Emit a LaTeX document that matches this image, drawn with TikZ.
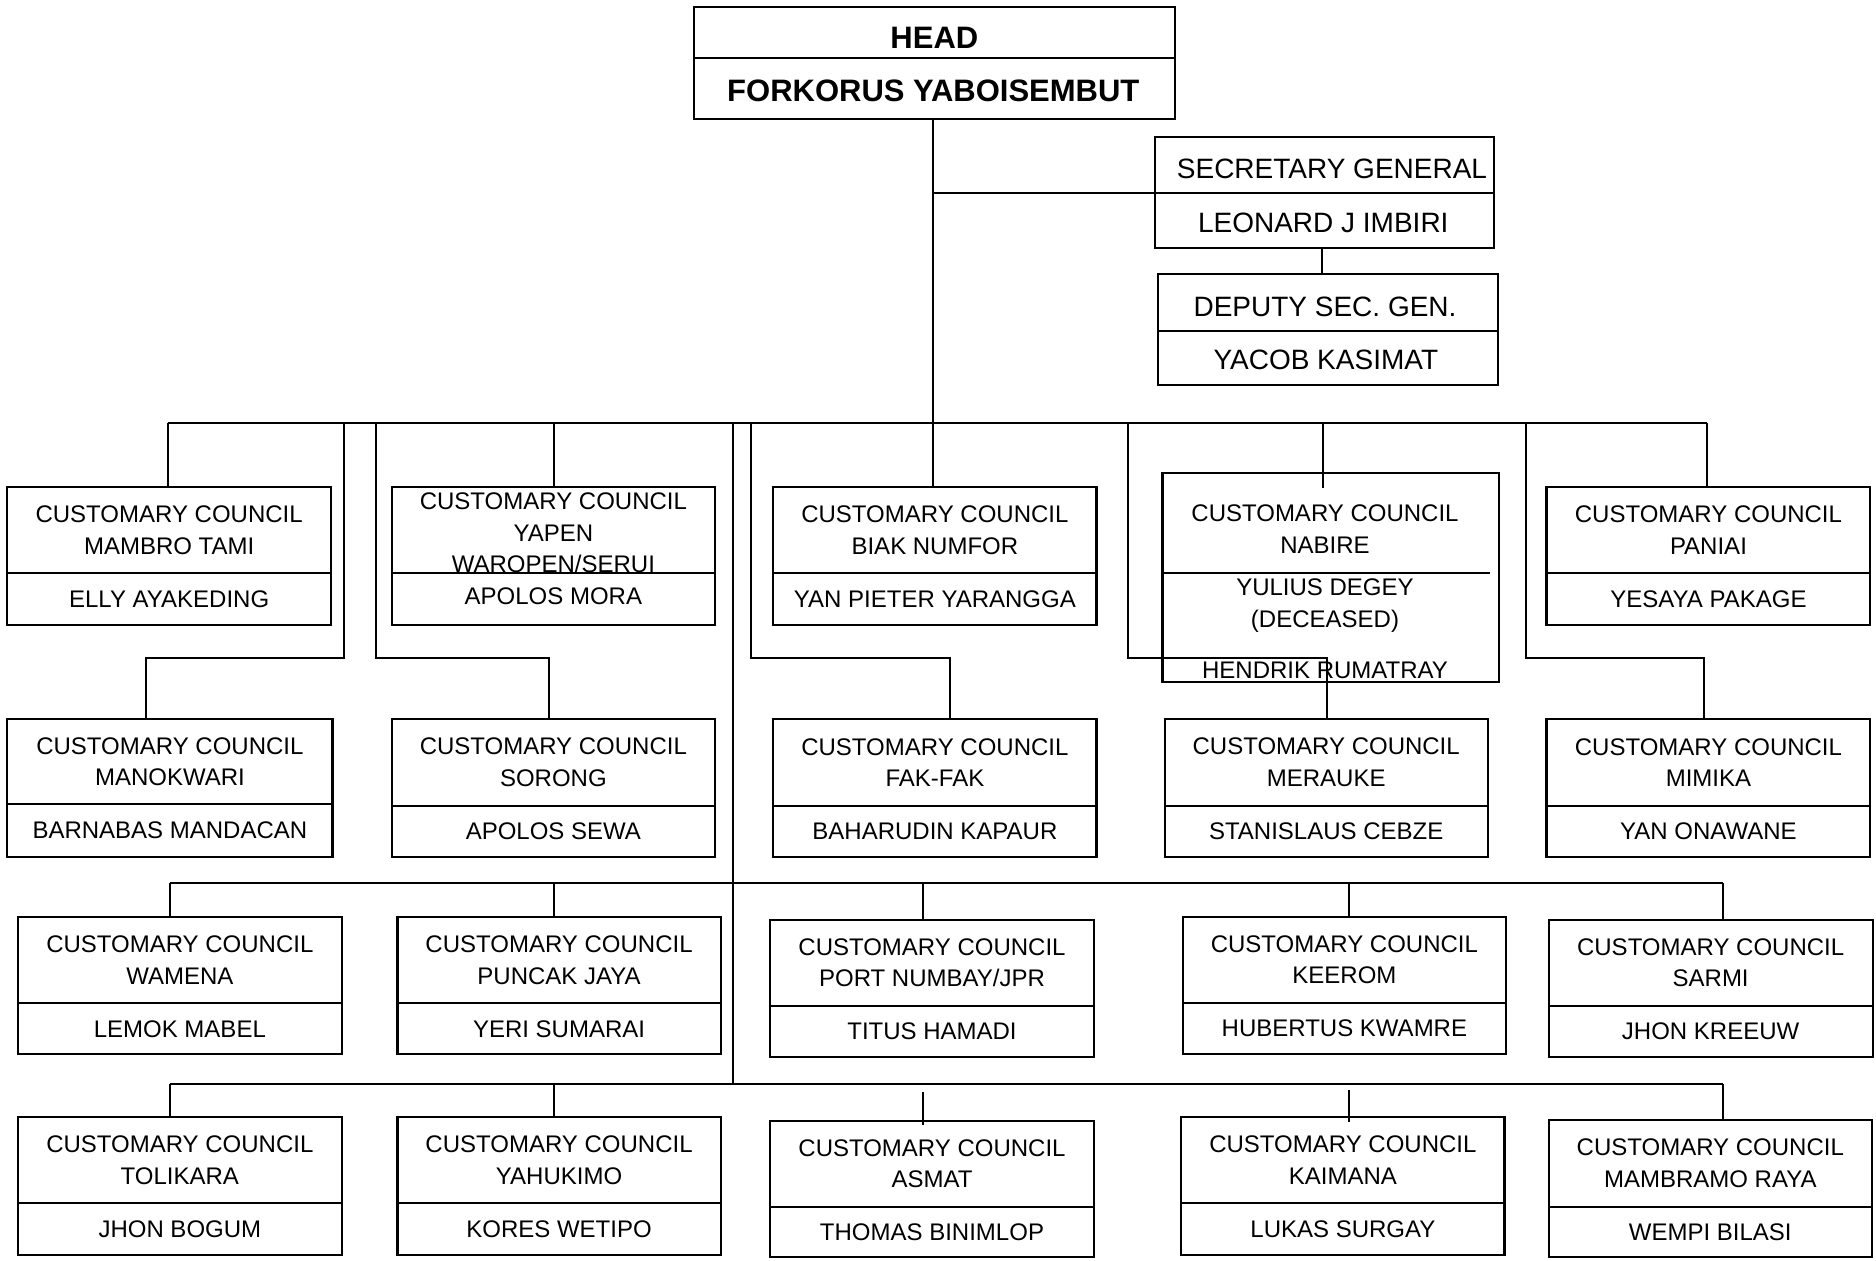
\documentclass[tikz,border=0pt]{standalone}
\usepackage{fontspec}
\setmainfont{Liberation Sans}
\usetikzlibrary{fit,calc}
\tikzset{
  boxst/.style={draw, line width=1.05pt, inner sep=0pt},
  divst/.style={line width=1.05pt},
  conn/.style={line width=1pt},
  cctxt/.style={font=\fontsize{12}{15.8}\selectfont, align=center, inner sep=0pt},
  bigtxt/.style={font=\fontsize{14}{17}\selectfont, inner sep=0pt},
  headtxt/.style={font=\bfseries\fontsize{15.5}{18}\selectfont, inner sep=0pt},
}
\newcommand\mkcc[8]{%
  \node[boxst, fit={(#2,#3) (#4,#6)}] (#1) {};
  \draw[divst] (#1.west |- 0,#5) -- (#1.east |- 0,#5);
  \node[cctxt] (#1-t) at ($(#2,#3)!0.5!(#4,#5)$) {#7};
  \node[cctxt] (#1-p) at ($(#2,#5)!0.5!(#4,#6)$) {#8};
}
\begin{document}
\begin{tikzpicture}[x=0.5pt,y=-0.5pt]
\useasboundingbox (0,0) rectangle (1876,1260);

% ---- head ----
\node[boxst, fit={(693.8,7.3) (1175,119.3)}] (head) {};
\draw[divst] (head.west |- 0,57.7) -- (head.east |- 0,57.7);
\node[headtxt] (head-t) at (934.4,38.3) {HEAD};
\node[headtxt] (head-p) at (933.3,90.8) {FORKORUS YABOISEMBUT};

% ---- secretary general ----
\node[boxst, fit={(1155,137.3) (1494.3,248.3)}] (secgen) {};
\draw[divst] (secgen.west |- 0,193.3) -- (secgen.east |- 0,193.3);
\node[bigtxt] (secgen-t) at (1332,169.2) {SECRETARY GENERAL};
\node[bigtxt] (secgen-p) at (1323.3,222.5) {LEONARD J IMBIRI};

% ---- deputy ----
\node[boxst, fit={(1158.3,274) (1497.7,385)}] (deputy) {};
\draw[divst] (deputy.west |- 0,330.7) -- (deputy.east |- 0,330.7);
\node[bigtxt] (deputy-t) at (1325,306.7) {DEPUTY SEC. GEN.};
\node[bigtxt] (deputy-p) at (1325.8,360) {YACOB KASIMAT};

% ---- row 1 ----
\mkcc{mambro}{7.3}{487.3}{331}{573.3}{625}{CUSTOMARY COUNCIL\\MAMBRO TAMI}{ELLY AYAKEDING}
\node[boxst, fit={(391.7,487.3) (715,625)}] (yapen) {};
\draw[divst] (yapen.west |- 0,573.3) -- (yapen.east |- 0,573.3);
\node[cctxt] (yapen-t) at (553.4,533) {CUSTOMARY COUNCIL\\YAPEN\\WAROPEN/SERUI};
\node[cctxt] (yapen-p) at (553.4,596) {APOLOS MORA};
\mkcc{biak}{773.3}{487.3}{1096.5}{573.3}{625}{CUSTOMARY COUNCIL\\BIAK NUMFOR}{YAN PIETER YARANGGA}
\mkcc{paniai}{1546.5}{487.3}{1870.4}{573.3}{625}{CUSTOMARY COUNCIL\\PANIAI}{YESAYA PAKAGE}

% nabire (special)
\node[boxst, fit={(1162.5,473.3) (1498.7,681.7)}] (nabire) {};
\draw[divst] (nabire.west |- 0,573.3) ++(2.1,0) -- (1490,573.3);
\node[cctxt] (nabire-t) at (1325,529.2) {CUSTOMARY COUNCIL\\NABIRE};
\node[cctxt] (nabire-p) at (1325,605.8) {YULIUS DEGEY\\(DECEASED)};
\node[cctxt] (nabire-h) at (1325,670) {HENDRIK RUMATRAY};

% ---- row 2 ----
\mkcc{manokwari}{7.3}{719.3}{332.5}{804.3}{856.7}{CUSTOMARY COUNCIL\\MANOKWARI}{BARNABAS MANDACAN}
\mkcc{sorong}{391.7}{719.3}{715}{805.7}{856.7}{CUSTOMARY COUNCIL\\SORONG}{APOLOS SEWA}
\mkcc{fakfak}{773.3}{719.3}{1096.5}{805.7}{856.7}{CUSTOMARY COUNCIL\\FAK-FAK}{BAHARUDIN KAPAUR}
\mkcc{merauke}{1164.6}{719.3}{1487.8}{805.7}{856.7}{CUSTOMARY COUNCIL\\MERAUKE}{STANISLAUS CEBZE}
\mkcc{mimika}{1546.5}{719.3}{1870.4}{805.7}{856.7}{CUSTOMARY COUNCIL\\MIMIKA}{YAN ONAWANE}

% ---- row 3 ----
\mkcc{wamena}{18}{916.7}{341.7}{1003.3}{1054.3}{CUSTOMARY COUNCIL\\WAMENA}{LEMOK MABEL}
\mkcc{puncak}{397.5}{916.7}{720.6}{1003.3}{1054.3}{CUSTOMARY COUNCIL\\PUNCAK JAYA}{YERI SUMARAI}
\mkcc{port}{770.4}{920}{1093.6}{1005.7}{1057.3}{CUSTOMARY COUNCIL\\PORT NUMBAY/JPR}{TITUS HAMADI}
\mkcc{keerom}{1182.8}{916.7}{1506}{1002.7}{1054}{CUSTOMARY COUNCIL\\KEEROM}{HUBERTUS KWAMRE}
\mkcc{sarmi}{1548.7}{920}{1872.6}{1005.7}{1057.3}{CUSTOMARY COUNCIL\\SARMI}{JHON KREEUW}

% ---- row 4 ----
\mkcc{tolikara}{18}{1117.3}{341.7}{1203.3}{1255}{CUSTOMARY COUNCIL\\TOLIKARA}{JHON BOGUM}
\mkcc{yahukimo}{397.5}{1117.3}{720.6}{1203.3}{1255}{CUSTOMARY COUNCIL\\YAHUKIMO}{KORES WETIPO}
\mkcc{asmat}{770.4}{1120.7}{1093.6}{1206.7}{1257.3}{CUSTOMARY COUNCIL\\ASMAT}{THOMAS BINIMLOP}
\mkcc{kaimana}{1181.3}{1116.7}{1504.5}{1203.3}{1255}{CUSTOMARY COUNCIL\\KAIMANA}{LUKAS SURGAY}
\mkcc{mambramo}{1548.7}{1120}{1871.9}{1206.7}{1257.3}{CUSTOMARY COUNCIL\\MAMBRAMO RAYA}{WEMPI BILASI}

% ---- connectors: top ----
\coordinate (hv) at (932.8,119.3);
\draw[conn] (hv) -- (hv |- biak.north);
\draw[conn] (hv |- 0,193.3) -- (secgen.west |- 0,193.3);
\coordinate (sv) at (1322.3,248.3);
\draw[conn] (sv) -- (sv |- deputy.north);

% main bus
\coordinate (busL) at (167.7,423.3);
\coordinate (busR) at (1707.4,423.3);
\draw[conn] (busL) -- (busR);
\draw[conn] (busL) -- (busL |- mambro.north);
\coordinate (bA) at (344.2,423.3); \coordinate (kA) at (146.4,658.3);
\draw[conn] (bA) |- (kA) -- (kA |- manokwari.north);
\coordinate (bB) at (376.2,423.3); \coordinate (kB) at (549.2,658.3);
\draw[conn] (bB) |- (kB) -- (kB |- sorong.north);
\coordinate (bY) at (554,423.3);
\draw[conn] (bY) -- (bY |- yapen.north);
\coordinate (trunkT) at (733,423.3); \coordinate (trunkB) at (733,1084);
\draw[conn] (trunkT) -- (trunkB);
\coordinate (bC) at (751.2,423.3); \coordinate (kC) at (950.1,657.7);
\draw[conn] (bC) |- (kC) -- (kC |- fakfak.north);
\coordinate (bD) at (1127.7,423.3); \coordinate (kD) at (1327,657.7);
\draw[conn] (bD) |- (kD) -- (kD |- merauke.north);
\coordinate (bN) at (1322.6,423.3); \coordinate (nN) at (1322.6,488.3);
\draw[conn] (bN) -- (nN);
\coordinate (bE) at (1526.2,423.3); \coordinate (kE) at (1703.8,657.7);
\draw[conn] (bE) |- (kE) -- (kE |- mimika.north);
\draw[conn] (busR) -- (busR |- paniai.north);

% middle bus
\coordinate (mL) at (170.3,883.3); \coordinate (mR) at (1722.6,883.3);
\draw[conn] (mL) -- (mR);
\draw[conn] (mL) -- (mL |- wamena.north);
\coordinate (m2) at (554,883.3); \draw[conn] (m2) -- (m2 |- puncak.north);
\coordinate (m3) at (922.6,883.3); \draw[conn] (m3) -- (m3 |- port.north);
\coordinate (m4) at (1348.7,883.3); \draw[conn] (m4) -- (m4 |- keerom.north);
\draw[conn] (mR) -- (mR |- sarmi.north);

% bottom bus
\coordinate (lL) at (170.3,1084); \coordinate (lR) at (1722.6,1084);
\draw[conn] (lL) -- (lR);
\draw[conn] (lL) -- (lL |- tolikara.north);
\coordinate (l2) at (554,1084); \draw[conn] (l2) -- (l2 |- yahukimo.north);
\coordinate (a1) at (922.6,1092.3); \coordinate (a2) at (922.6,1125);
\draw[conn] (a1) -- (a2);
\coordinate (c1) at (1348.7,1090); \coordinate (c2) at (1348.7,1122.3);
\draw[conn] (c1) -- (c2);
\draw[conn] (lR) -- (lR |- mambramo.north);
\end{tikzpicture}
\end{document}
